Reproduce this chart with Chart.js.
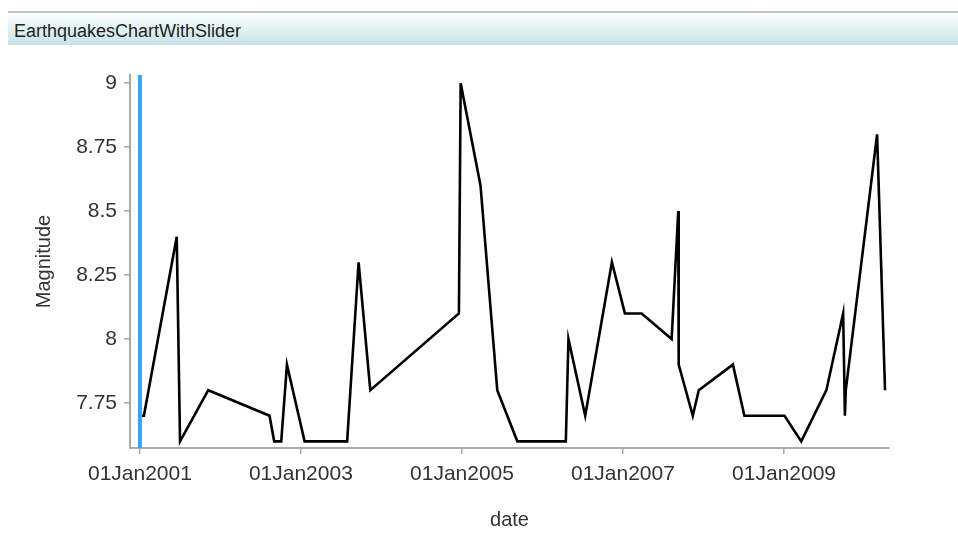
<!DOCTYPE html>
<html>
<head>
<meta charset="utf-8">
<script src="https://cdn.jsdelivr.net/npm/chart.js@4.4.1/dist/chart.umd.min.js"></script>
<style>
  html, body { margin: 0; padding: 0; background: #fff; }
  body { width: 958px; height: 542px; position: relative; overflow: hidden; font-family: "Liberation Sans", Arial, sans-serif; }
  #header {
    position: absolute; left: 8px; right: 0; top: 11px; height: 32px;
    border-top: 2px solid #bfc3c6;
    background: linear-gradient(#fcfefe, #c6e4e9);
    color: #222; font-size: 18px; line-height: 36px; padding-left: 6px;
    overflow: hidden;
  }
  #wrap { position: absolute; left: 0; top: 46px; width: 958px; height: 496px; }
</style>
</head>
<body>
<div id="header">EarthquakesChartWithSlider</div>
<div id="wrap"><canvas id="chart"></canvas></div>
<script>
// dates des séismes et magnitudes
const dates = [
  "2001-01-09", "2001-01-19", "2001-06-17", "2001-07-02", "2001-11-07",
  "2002-08-12", "2002-09-02", "2002-10-04", "2002-10-30", "2003-01-18",
  "2003-07-30", "2003-09-20", "2003-11-12", "2004-12-18", "2004-12-26",
  "2005-03-26", "2005-06-10", "2005-09-09", "2006-04-17", "2006-04-29",
  "2006-07-14", "2006-11-12", "2007-01-10", "2007-03-27", "2007-08-10",
  "2007-09-09", "2007-09-11", "2007-11-14", "2007-12-11", "2008-05-14",
  "2008-07-05", "2009-01-03", "2009-03-20", "2009-07-12", "2009-09-26",
  "2009-10-04", "2009-10-08", "2010-02-27", "2010-04-04"
];
const magnitudes = [
  7.7, 7.7, 8.4, 7.6, 7.8,
  7.7, 7.6, 7.6, 7.9, 7.6,
  7.6, 8.3, 7.8, 8.1, 9.0,
  8.6, 7.8, 7.6, 7.6, 8.0,
  7.7, 8.3, 8.1, 8.1, 8.0,
  8.5, 7.9, 7.7, 7.8, 7.9,
  7.7, 7.7, 7.6, 7.8, 8.1,
  7.7, 7.8, 8.8, 7.8
];
const xTickDates = ["2001-01-01", "2003-01-01", "2005-01-01", "2007-01-01", "2009-01-01"];
const xTickLabels = ["01Jan2001", "01Jan2003", "01Jan2005", "01Jan2007", "01Jan2009"];
const yTicks = [7.75, 8, 8.25, 8.5, 8.75, 9];
const yTickLabels = ["7.75", "8", "8.25", "8.5", "8.75", "9"];
const sliderDate = "2001-01-01";

function toTime(s) {
  const p = s.split("-");
  return Date.UTC(+p[0], +p[1] - 1, +p[2]);
}

const points = dates.map((d, i) => ({ x: toTime(d), y: magnitudes[i] }));
const tickTimes = xTickDates.map(toTime);

// ligne verticale du curseur
const sliderPlugin = {
  id: "slider",
  afterDatasetsDraw(chart) {
    const { ctx, chartArea, scales } = chart;
    const x = scales.x.getPixelForValue(toTime(sliderDate));
    ctx.save();
    ctx.strokeStyle = "#36a6f4";
    ctx.lineWidth = 4;
    ctx.beginPath();
    ctx.moveTo(x, chartArea.top);
    ctx.lineTo(x, chartArea.bottom);
    ctx.stroke();
    ctx.restore();
  }
};

const axisFont = { family: "'Liberation Sans', Arial, sans-serif", size: 21 };
const titleFont = { family: "'Liberation Sans', Arial, sans-serif", size: 20 };

new Chart(document.getElementById("chart"), {
  type: "line",
  data: {
    datasets: [{
      data: points,
      borderColor: "#000",
      borderWidth: 2.6,
      pointRadius: 0,
      tension: 0,
      fill: false
    }]
  },
  options: {
    responsive: true,
    maintainAspectRatio: false,
    animation: false,
    layout: { padding: { top: 29, right: 69, left: 0, bottom: 0 } },
    plugins: { legend: { display: false }, tooltip: { enabled: false } },
    scales: {
      x: {
        type: "linear",
        min: toTime("2000-11-17"),
        max: toTime("2010-04-22"),
        afterBuildTicks(scale) {
          scale.ticks = tickTimes.map(v => ({ value: v }));
        },
        afterFit(scale) { scale.height = 94; },
        ticks: {
          autoSkip: false,
          maxRotation: 0,
          padding: 8,
          color: "#333",
          font: axisFont,
          callback: (v) => xTickLabels[tickTimes.indexOf(v)]
        },
        grid: { drawOnChartArea: false, drawTicks: true, tickLength: 6, color: "#aaa", lineWidth: 1.5 },
        border: { color: "#aaa", width: 2 },
        title: { display: true, text: "date", color: "#333", font: titleFont, padding: { top: 0, bottom: 10 } }
      },
      y: {
        min: 7.574,
        max: 9.032,
        afterBuildTicks(scale) {
          scale.ticks = yTicks.map(v => ({ value: v }));
        },
        afterFit(scale) { scale.width = 130; },
        ticks: {
          padding: 7,
          color: "#333",
          font: axisFont,
          callback: (v) => yTickLabels[yTicks.indexOf(v)]
        },
        grid: { drawOnChartArea: false, drawTicks: true, tickLength: 6, color: "#aaa", lineWidth: 1.5 },
        border: { color: "#aaa", width: 2 },
        title: { display: true, text: "Magnitude", color: "#333", font: titleFont, padding: { top: 32, bottom: 0 } }
      }
    }
  },
  plugins: [sliderPlugin]
});
</script>
</body>
</html>
